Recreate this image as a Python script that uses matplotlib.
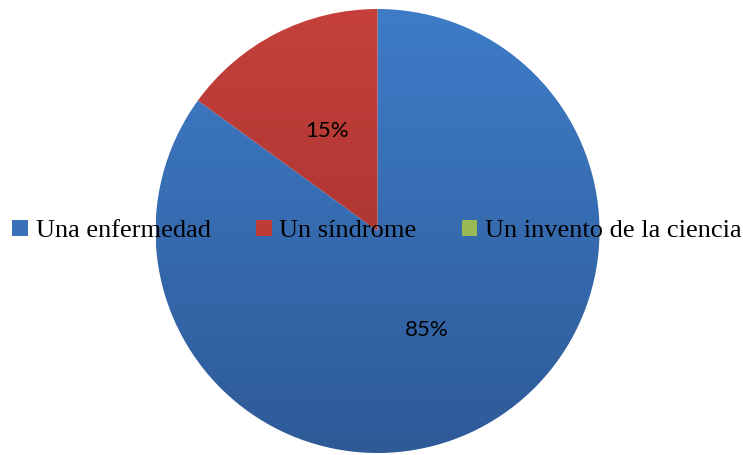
import numpy as np
import matplotlib.pyplot as plt
from matplotlib.patches import Rectangle
from matplotlib.colors import LinearSegmentedColormap

categories = ["Una enfermedad", "Un síndrome", "Un invento de la ciencia"]
values = [85, 15, 0]
labels = ["85%", "15%", None]

# top / bottom shade of each slice
top_colors = ["#3E7CC8", "#C5403B", "#A6C764"]
bottom_colors = ["#2E5A97", "#9A2E2B", "#7F9C44"]
legend_colors = ["#3A71B7", "#BD3C37", "#98B954"]

W, H = 743, 455
fig = plt.figure(figsize=(W / 100, H / 100), dpi=100)
ax = fig.add_axes([0, 0, 1, 1])

cx, cy, r = 377.5, H - 231, 222
wedges, _ = ax.pie(values, startangle=90, counterclock=False,
                   center=(cx, cy), radius=r, frame=True,
                   wedgeprops=dict(linewidth=0))
ax.set_xlim(0, W)
ax.set_ylim(0, H)
ax.set_aspect("equal")
ax.axis("off")

grad = np.linspace(1, 0, 256).reshape(-1, 1)
for w, c1, c2 in zip(wedges, top_colors, bottom_colors):
    cmap = LinearSegmentedColormap.from_list("g", [c2, c1])
    im = ax.imshow(grad, cmap=cmap, extent=[cx - r, cx + r, cy - r, cy + r],
                   aspect="auto", zorder=w.get_zorder() + 0.1)
    im.set_clip_path(w)
    w.set_facecolor("none")

# percentage labels
ax.text(327, H - 131, labels[1], fontsize=16, family="Lato",
        ha="center", va="center", zorder=5)
ax.text(427, H - 330, labels[0], fontsize=16, family="Lato",
        ha="center", va="center", zorder=5)

handles = [Rectangle((0, 0), 1, 1, facecolor=c, edgecolor="none")
           for c in legend_colors]
leg = fig.legend(handles, categories, ncol=3, loc="center",
                 bbox_to_anchor=(377 / W, 1 - 231 / H), frameon=False,
                 prop=dict(family="Liberation Serif", size=19),
                 handlelength=0.6, handleheight=0.6, handletextpad=0.3,
                 columnspacing=1.7, borderpad=0, borderaxespad=0)
leg.set_zorder(10)

fig.savefig("out.png", dpi=100)
